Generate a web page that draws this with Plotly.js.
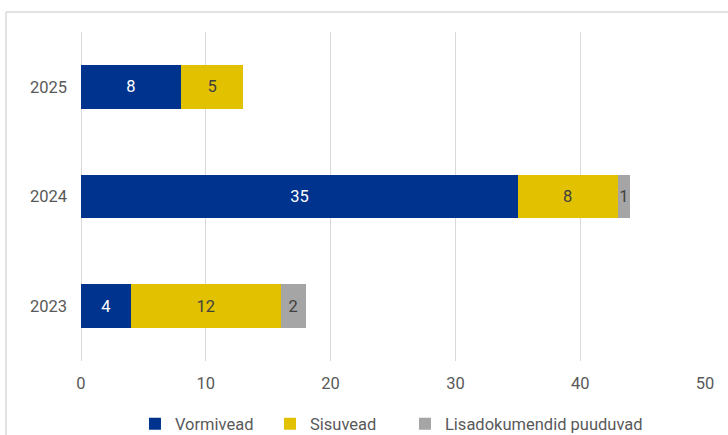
<!DOCTYPE html>
<html>
<head>
<meta charset="utf-8">
<script src="https://cdn.plot.ly/plotly-3.0.1.min.js"></script>
<style>html,body{margin:0;padding:0;background:#fff;}#chart{width:728px;height:435px;}</style>
</head>
<body>
<div id="chart"></div>
<script>
var years = ["2023", "2024", "2025"];
var vormivead = [4, 35, 8];
var sisuvead = [12, 8, 5];
var lisadokumendid = [2, 1, 0];
var seriesNames = ["Vormivead", "Sisuvead", "Lisadokumendid puuduvad"];
var xTicks = [0, 10, 20, 30, 40, 50];

function labels(arr) { return arr.map(function (v) { return v ? String(v) : ""; }); }

var font = "Roboto, 'Liberation Sans', sans-serif";
var fs = 16.5;
function trace(vals, name, color, textColor) {
  return {
    type: "bar", orientation: "h", y: years, x: vals, name: name,
    marker: { color: color },
    text: labels(vals), textposition: "inside", insidetextanchor: "middle",
    textangle: 0, constraintext: "none",
    textfont: { family: font, size: fs, color: textColor },
    hoverinfo: "x+name"
  };
}

var data = [
  trace(vormivead, seriesNames[0], "#00338D", "#ffffff"),
  trace(sisuvead, seriesNames[1], "#E2C200", "#404040"),
  trace(lisadokumendid, seriesNames[2], "#A5A5A5", "#404040"),
  // invisible spacer entry so the last legend label is not clipped
  { type: "bar", orientation: "h", y: [years[2]], x: [0], name: " ",
    marker: { color: "rgba(0,0,0,0)" }, hoverinfo: "skip" }
];

var layout = {
  width: 728, height: 435,
  margin: { l: 81, r: 23, t: 32, b: 74, autoexpand: false },
  barmode: "stack", bargap: 0.6,
  paper_bgcolor: "#ffffff", plot_bgcolor: "#ffffff",
  font: { family: font, size: fs, color: "#595959" },
  showlegend: true,
  legend: {
    orientation: "h", xref: "paper", x: 0.0865, xanchor: "left",
    yref: "container", y: 0.025, yanchor: "middle",
    font: { family: font, size: fs, color: "#595959" },
    traceorder: "normal", itemwidth: 30,
    entrywidthmode: "pixels", entrywidth: 90
  },
  xaxis: {
    range: [0, 50], tickvals: xTicks, ticktext: xTicks.map(String),
    showgrid: true, gridcolor: "#D9D9D9", gridwidth: 1,
    zeroline: true, zerolinecolor: "#D9D9D9", zerolinewidth: 1,
    showline: false, ticks: "", ticklabelstandoff: 10, automargin: false,
    tickfont: { family: font, size: fs, color: "#595959" }, fixedrange: true
  },
  yaxis: {
    categoryorder: "array", categoryarray: years,
    showgrid: false, zeroline: false, showline: false, ticks: "",
    ticklabelstandoff: 13, automargin: false,
    tickfont: { family: font, size: fs, color: "#595959" }, fixedrange: true
  },
  shapes: [
    { type: "line", xref: "paper", yref: "paper", x0: -0.1202, x1: 1.2, y0: 1.0608, y1: 1.0608,
      line: { color: "#D9D9D9", width: 1.5 } },
    { type: "line", xref: "paper", yref: "paper", x0: -0.1202, x1: -0.1202, y0: 1.0608, y1: -0.4,
      line: { color: "#D9D9D9", width: 1.5 } }
  ]
};

Plotly.newPlot("chart", data, layout, { displayModeBar: false, staticPlot: true });
</script>
</body>
</html>
